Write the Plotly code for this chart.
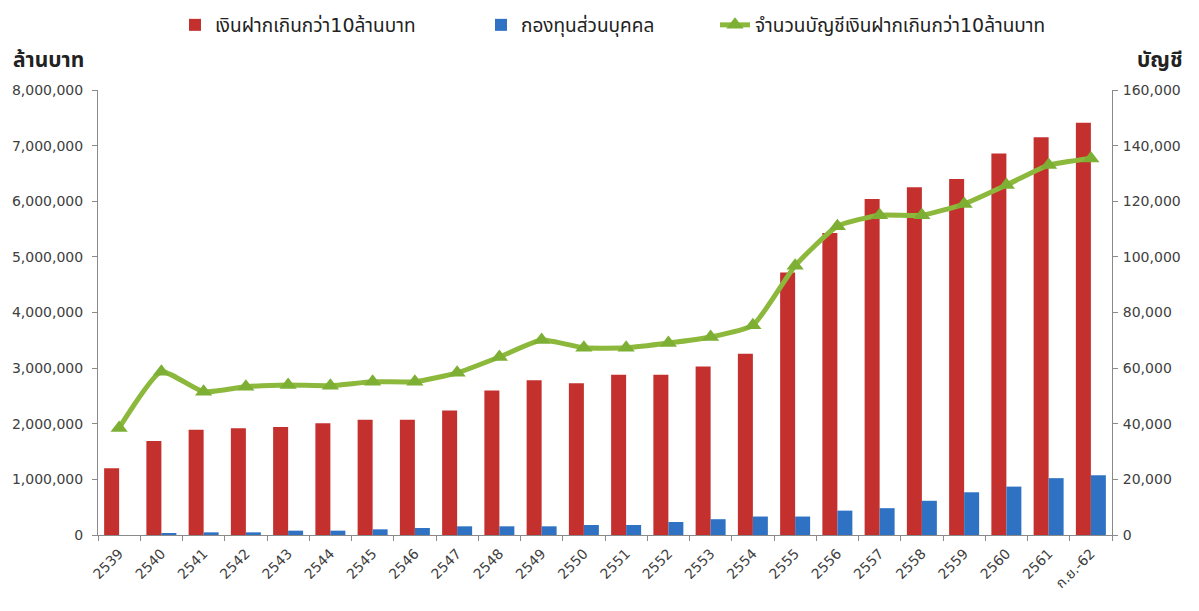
import plotly.graph_objects as go

categories = ["2539", "2540", "2541", "2542", "2543", "2544", "2545", "2546", "2547",
              "2548", "2549", "2550", "2551", "2552", "2553", "2554", "2555", "2556",
              "2557", "2558", "2559", "2560", "2561", "ก.ย.-62"]

deposits_over_10m = [1200000, 1690000, 1890000, 1920000, 1940000, 2010000, 2070000, 2070000,
                     2240000, 2600000, 2780000, 2730000, 2880000, 2880000, 3030000, 3260000,
                     4720000, 5430000, 6040000, 6250000, 6400000, 6860000, 7150000, 7410000]

private_funds = [0, 30000, 48000, 48000, 78000, 78000, 102000, 126000, 156000, 156000, 156000,
                 180000, 180000, 234000, 284000, 332000, 332000, 438000, 482000, 615000,
                 768000, 870000, 1022000, 1074000]

accounts_over_10m = [38500, 58700, 51500, 53300, 53900, 53700, 55100, 55100, 58300, 64000,
                     70100, 67300, 67300, 69000, 71200, 75400, 96800, 111000, 115000, 115000,
                     119000, 125800, 133000, 135400]

name_dep = "เงินฝากเกินกว่า10ล้านบาท"
name_fund = "กองทุนส่วนบุคคล"
name_acc = "จำนวนบัญชีเงินฝากเกินกว่า10ล้านบาท"

left_title = "ล้านบาท"
right_title = "บัญชี"

FONT = "Tahoma, 'DejaVu Sans', 'Noto Sans Thai', 'Noto Sans', sans-serif"
TXT = "#404040"
# the page body adds an 8px margin; the figure is sized so the plot lands where intended
OFF = 8
W, H = 1183, 603
L, R, T, B = 98 - OFF, W - (1112 - OFF), 90 - OFF, H - (535 - OFF)
PW, PH = W - L - R, H - T - B

fig = go.Figure()
fig.add_trace(go.Bar(x=categories, y=deposits_over_10m, name=name_dep, legend="legend",
                     marker=dict(color="#C3302E", line=dict(width=0))))
fig.add_trace(go.Bar(x=categories, y=private_funds, name=name_fund, legend="legend2",
                     marker=dict(color="#2F72C4", line=dict(width=0))))
fig.add_trace(go.Scatter(x=categories, y=accounts_over_10m, name=name_acc, yaxis="y2",
                         legend="legend3", mode="lines+markers",
                         line=dict(color="#8CB83C", width=5, shape="spline", smoothing=0.5),
                         marker=dict(symbol="triangle-up", size=15, color="#7DAF34")))

leg_common = dict(orientation="h", xref="container", yref="container", xanchor="left",
                  yanchor="middle", y=1 - (25 - OFF) / H, font=dict(size=19, color="#222222"),
                  itemwidth=30, bgcolor="rgba(0,0,0,0)")

def px_x(p):
    return (p - OFF - L) / PW

def px_y(p):
    return (H - B - (p - OFF)) / PH

fig.update_layout(
    width=W, height=H, autosize=False,
    margin=dict(l=L, r=R, t=T, b=B, autoexpand=False),
    paper_bgcolor="white", plot_bgcolor="white",
    barmode="group", bargap=0.29, bargroupgap=0,
    font=dict(family=FONT, size=13, color=TXT),
    showlegend=True,
    legend=dict(leg_common, x=(175 - OFF) / W),
    legend2=dict(leg_common, x=(481 - OFF) / W),
    legend3=dict(leg_common, x=(715 - OFF) / W),
    xaxis=dict(type="category", range=[-0.5, len(categories) - 0.5],
               showline=True, linecolor="#8a8a8a", linewidth=1,
               ticks="outside", tickson="boundaries", ticklen=5, tickcolor="#8a8a8a",
               tickangle=-45, tickfont=dict(size=14, color=TXT), showgrid=False,
               automargin=False, ticklabelstandoff=4),
    yaxis=dict(range=[0, 8000000], dtick=1000000, tickformat=",d", showline=True,
               linecolor="#8a8a8a", linewidth=1, ticks="outside", ticklen=5,
               tickcolor="#8a8a8a", showgrid=False, zeroline=False, automargin=False,
               tickfont=dict(size=14, color=TXT), ticklabelstandoff=6),
    yaxis2=dict(range=[0, 160000], dtick=20000, tickformat=",d", overlaying="y",
                side="right", showline=True, linecolor="#8a8a8a", linewidth=1,
                ticks="outside", ticklen=5, tickcolor="#8a8a8a", showgrid=False,
                zeroline=False, automargin=False, tickfont=dict(size=14, color=TXT),
                ticklabelstandoff=2),
    annotations=[
        dict(text="<b>" + left_title + "</b>", xref="paper", yref="paper",
             x=px_x(48), y=px_y(60), xanchor="center", yanchor="middle", showarrow=False,
             font=dict(size=21, color="#222222")),
        dict(text="<b>" + right_title + "</b>", xref="paper", yref="paper",
             x=px_x(1160), y=px_y(60), xanchor="center", yanchor="middle", showarrow=False,
             font=dict(size=21, color="#222222")),
    ],
)

fig.write_html("out.html")
